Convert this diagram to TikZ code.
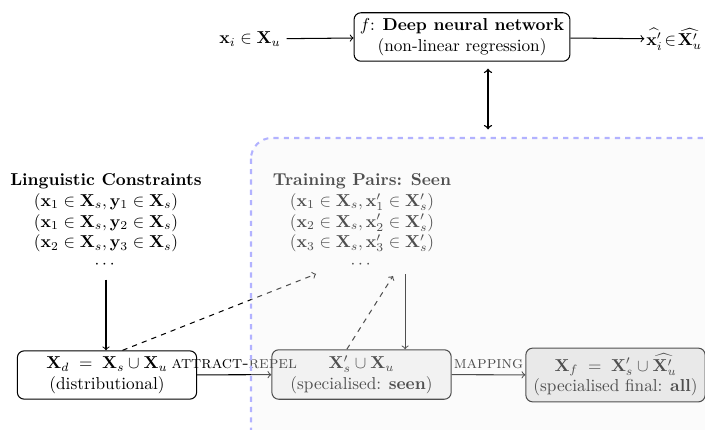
\documentclass[tikz,border=0pt]{standalone}
\usepackage{amsmath}
\tikzset{
  boxnode/.style={draw, rounded corners=4pt, semithick, align=center, minimum width=104pt, minimum height=28pt},
  txtnode/.style={align=center},
  flowarrow/.style={->, semithick},
  hintarrow/.style={->, semithick, dashed},
  seenregion/.style={draw=blue!30, dashed, very thick, rounded corners=12pt, fill=gray!10, fill opacity=0.33}
}
\begin{document}
\begin{tikzpicture}[x=0.58pt,y=-0.58pt]
  % 设置画布大小
  \useasboundingbox (0,0) rectangle (705,429);
  \clip (0,0) rectangle (705,429);

  % 顶部：网络与输入输出
  \node[txtnode] (inp) at (250,39) {$\mathbf{x}_i \in \mathbf{X}_u$};
  \node[boxnode, minimum width=0pt, minimum height=0pt] (nn) at (462,37)
    {$f$: \textbf{Deep neural network}\\(non-linear regression)};
  \node[txtnode, anchor=east, inner sep=1pt] (out) at (704,39)
    {$\widehat{\mathbf{x}'_i}\!\in\!\widehat{\mathbf{X}'_u}$};
  \draw[flowarrow] (inp) -- (nn);
  \draw[flowarrow] (nn) -- (out);

  % 左侧：语言约束
  \node[txtnode] (ling) at (106,221)
    {\textbf{Linguistic Constraints}\\
     $(\mathbf{x}_1 \in \mathbf{X}_s, \mathbf{y}_1 \in \mathbf{X}_s)$\\
     $(\mathbf{x}_1 \in \mathbf{X}_s, \mathbf{y}_2 \in \mathbf{X}_s)$\\
     $(\mathbf{x}_2 \in \mathbf{X}_s, \mathbf{y}_3 \in \mathbf{X}_s)$\\
     $\cdots$};

  % 中间：训练对
  \node[txtnode] (train) at (362,221)
    {\textbf{Training Pairs: Seen}\\
     $(\mathbf{x}_1 \in \mathbf{X}_s, \mathbf{x}'_1 \in \mathbf{X}'_s)$\\
     $(\mathbf{x}_2 \in \mathbf{X}_s, \mathbf{x}'_2 \in \mathbf{X}'_s)$\\
     $(\mathbf{x}_3 \in \mathbf{X}_s, \mathbf{x}'_3 \in \mathbf{X}'_s)$\\
     $\cdots$};

  % 底部：三个向量空间
  \node[boxnode] (xd) at (107,375)
    {$\mathbf{X}_d \;=\; \mathbf{X}_s \cup \mathbf{X}_u$\\(distributional)};
  \node[boxnode, fill=gray!10] (seen) at (361.5,374.5)
    {$\mathbf{X}'_s \cup \mathbf{X}_u$\\(specialised: \textbf{seen})};
  \node[boxnode, fill=gray!20, minimum height=31pt] (final) at (615.5,375)
    {$\mathbf{X}_f \;=\; \mathbf{X}'_s \cup \widehat{\mathbf{X}'_u}$\\(specialised final: \textbf{all})};

  % 连接线
  \draw[flowarrow, shorten <=3pt] (ling.south) -- (ling.south |- xd.north);
  \draw[flowarrow] (xd) -- node[above] {\textsc{attract-repel}} (seen);
  \draw[flowarrow] (seen) -- node[above] {\textsc{mapping}} (final);
  \draw[flowarrow] ([xshift=25pt]train.south) -- ([xshift=25pt]train.south |- seen.north);

  % 虚线箭头
  \coordinate (hintA) at (316,274);
  \coordinate (hintB) at (393,276);
  \draw[hintarrow] ([xshift=9pt]xd.north) -- (hintA);
  \draw[hintarrow] ([xshift=-8.5pt]seen.north) -- (hintB);

  % 虚线区域（覆盖在上面）
  \draw[seenregion] (251,138) rectangle (800,480);
  \coordinate (dd) at (488,138);
  \draw[<->, thick, shorten <=4pt, shorten >=5pt] (nn.south -| dd) -- (dd);
\end{tikzpicture}
\end{document}
